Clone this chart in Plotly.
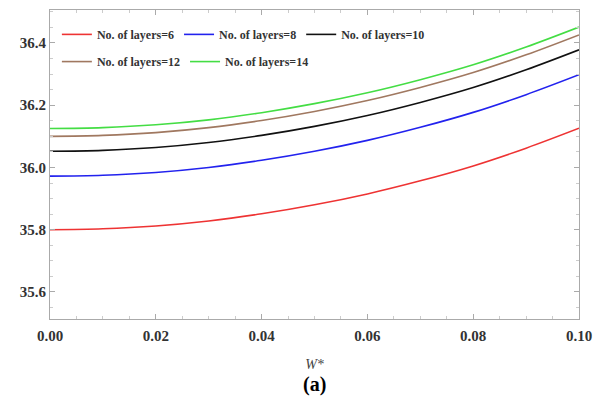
import plotly.graph_objects as go

w_vals = [0.00, 0.01, 0.02, 0.03, 0.04, 0.05, 0.06, 0.07, 0.08, 0.09, 0.10]
layers6 = [35.800, 35.803, 35.812, 35.828, 35.851, 35.880, 35.915, 35.957, 36.005, 36.062, 36.126]
layers8 = [35.972, 35.975, 35.984, 36.000, 36.023, 36.052, 36.087, 36.129, 36.177, 36.234, 36.298]
layers10 = [36.052, 36.055, 36.064, 36.080, 36.103, 36.132, 36.167, 36.209, 36.257, 36.314, 36.378]
layers12 = [36.100, 36.103, 36.112, 36.128, 36.151, 36.180, 36.215, 36.257, 36.305, 36.362, 36.426]
layers14 = [36.125, 36.128, 36.137, 36.153, 36.176, 36.205, 36.240, 36.282, 36.330, 36.387, 36.451]

x_tick_vals = [0.00, 0.02, 0.04, 0.06, 0.08, 0.10]
x_tick_text = ["0.00", "0.02", "0.04", "0.06", "0.08", "0.10"]
y_tick_vals = [35.6, 35.8, 36.0, 36.2, 36.4]
y_tick_text = ["35.6", "35.8", "36.0", "36.2", "36.4"]

series = [
    ("No. of layers=6", layers6, "#ee3333", "legend"),
    ("No. of layers=8", layers8, "#2222ee", "legend"),
    ("No. of layers=10", layers10, "#111111", "legend"),
    ("No. of layers=12", layers12, "#a07860", "legend2"),
    ("No. of layers=14", layers14, "#44dd44", "legend2"),
]

SERIF = "Liberation Serif"

fig = go.Figure()
for name, vals, col, lg in series:
    fig.add_trace(go.Scatter(x=w_vals, y=vals, mode="lines", name="<b>" + name + "</b>",
                             line=dict(color=col, width=1.6, shape="spline"),
                             legend=lg))

font_ax = dict(family=SERIF, size=15, color="#333333")
legfont = dict(family=SERIF, size=12, color="#333333")

fig.update_layout(
    width=603, height=400,
    margin=dict(l=50, r=24, t=10, b=81),
    plot_bgcolor="white", paper_bgcolor="white",
    showlegend=True,
    legend=dict(orientation="h", x=0.013, y=0.968, xanchor="left", yanchor="top",
                font=legfont, bgcolor="rgba(0,0,0,0)"),
    legend2=dict(orientation="h", x=0.013, y=0.880, xanchor="left", yanchor="top",
                 font=legfont, bgcolor="rgba(0,0,0,0)"),
    xaxis=dict(range=[0, 0.1], tickvals=x_tick_vals,
               ticktext=["<b>" + t + "</b>" for t in x_tick_text],
               tickfont=font_ax, showgrid=False, zeroline=False,
               showline=True, linecolor="#aaaaaa", linewidth=1, mirror="ticks",
               ticks="inside", ticklen=5, tickcolor="#aaaaaa", ticklabelstandoff=3,
               minor=dict(ticks="inside", ticklen=3, tickcolor="#cccccc", dtick=0.005),
               title=dict(text="<i>W*</i>", font=dict(family=SERIF, size=14, color="#444444"),
                          standoff=16)),
    yaxis=dict(range=[35.513, 36.506], tickvals=y_tick_vals,
               ticktext=["<b>" + t + "</b>" for t in y_tick_text],
               tickfont=font_ax, showgrid=False, zeroline=False,
               showline=True, linecolor="#aaaaaa", linewidth=1, mirror="ticks",
               ticks="inside", ticklen=5, tickcolor="#aaaaaa",
               minor=dict(ticks="inside", ticklen=3, tickcolor="#cccccc", dtick=0.05)),
    annotations=[dict(text="<b>(a)</b>", x=0.5, y=0, xref="paper", yref="paper",
                      xanchor="center", yanchor="middle", showarrow=False,
                      font=dict(family=SERIF, size=20, color="black"))],
)
# place "(a)" at pixel row ~385 (convert to paper coords of plot area)
plot_h = 400 - 10 - 81
fig.layout.annotations[0].y = -(385 - (400 - 81)) / plot_h

fig.write_html("out.html", config={"displayModeBar": False},
               post_script="document.body.style.margin='0';document.body.style.padding='0';")
